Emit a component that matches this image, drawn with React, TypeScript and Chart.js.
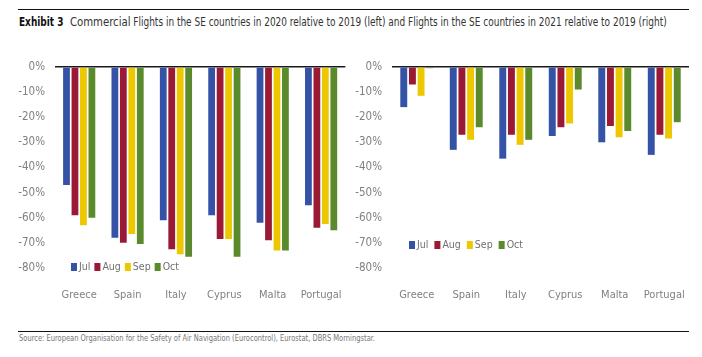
import React, { useEffect, useLayoutEffect, useRef } from "react";
import { Chart, registerables } from "chart.js";

Chart.register(...registerables);

const categories = ["Greece", "Spain", "Italy", "Cyprus", "Malta", "Portugal"];
const months = ["Jul", "Aug", "Sep", "Oct"];
const colors = ["#3452A6", "#9A1A36", "#EDC800", "#5A8A2B"];

// 2020 relative to 2019 (%)
const jul2020 = [-47, -68, -61, -59, -62, -55];
const aug2020 = [-59, -70, -72.5, -68.5, -69, -64];
const sep2020 = [-63, -66.5, -74.5, -68.5, -73, -62.5];
const oct2020 = [-60, -70.5, -75.5, -75.5, -73, -65];

// 2021 relative to 2019 (%)
const jul2021 = [-16, -33, -36.5, -27.5, -30, -35];
const aug2021 = [-7, -27, -27, -24, -23.5, -27];
const sep2021 = [-11.5, -29, -31, -22.5, -28, -28.5];
const oct2021 = [-0.5, -24, -29, -9, -25.5, -22];

const yTicks = [0, -10, -20, -30, -40, -50, -60, -70, -80];

const FONT = "'Liberation Sans Narrow', 'DejaVu Sans Condensed', 'Arial Narrow', sans-serif";

const legendPlugin = {
  id: "insideLegend",
  afterDraw(chart: any, _args: any, opts: any) {
    const ctx = chart.ctx;
    ctx.save();
    ctx.font = `${opts.size || 11}px ${FONT}`;
    ctx.textBaseline = "middle";
    let x = opts.x;
    const y = opts.y;
    chart.data.datasets.forEach((ds: any) => {
      ctx.fillStyle = ds.backgroundColor;
      ctx.fillRect(x, y - 4, 6, 8);
      x += 8;
      ctx.fillStyle = "#707070";
      ctx.fillText(ds.label, x, y);
      x += ctx.measureText(ds.label).width + (opts.gap || 7);
    });
    ctx.restore();
  },
};

function BarChart(props: {
  series: number[][];
  left: number;
  width: number;
  padRight: number;
  legendX: number;
  legendY: number;
  legendGap: number;
}) {
  const ref = useRef<HTMLCanvasElement>(null);
  useEffect(() => {
    const chart = new Chart(ref.current as HTMLCanvasElement, {
      type: "bar",
      data: {
        labels: categories,
        datasets: months.map((m, i) => ({
          label: m,
          data: props.series[i],
          backgroundColor: colors[i],
          borderWidth: 0,
          categoryPercentage: 0.7,
          barPercentage: 0.8,
        })),
      },
      options: {
        animation: false,
        responsive: false,
        layout: { padding: { top: 14, right: props.padRight, left: 0, bottom: 0 } },
        plugins: {
          legend: { display: false },
          tooltip: { enabled: false },
          insideLegend: { x: props.legendX, y: props.legendY, gap: props.legendGap, size: 10.5 },
        } as any,
        scales: {
          x: {
            grid: { display: false },
            border: { display: false },
            ticks: {
              color: "#808080",
              padding: 13,
              font: { family: FONT, size: 11 },
              maxRotation: 0,
            },
            afterFit: (s: any) => {
              s.height = 32;
            },
          },
          y: {
            min: -80,
            max: 0,
            afterBuildTicks: (s: any) => {
              s.ticks = yTicks.map((v) => ({ value: v }));
            },
            grid: {
              drawTicks: false,
              color: (c: any) => (c.tick && c.tick.value === 0 ? "#1a1a1a" : "rgba(0,0,0,0)"),
              lineWidth: 1.5,
            },
            border: { display: false },
            ticks: {
              color: "#808080",
              padding: 10,
              font: { family: FONT, size: 11.5 },
              callback: (v: any) => `${v}%`,
            },
            afterFit: (s: any) => {
              s.width = 55;
            },
          },
        },
      },
      plugins: [legendPlugin],
    });
    return () => chart.destroy();
  }, []);
  return (
    <canvas
      ref={ref}
      width={props.width}
      height={250}
      style={{ position: "absolute", left: props.left, top: 50, width: props.width, height: 250 }}
    />
  );
}

function FitText(props: { width: number; style: React.CSSProperties; children: React.ReactNode }) {
  const ref = useRef<HTMLDivElement>(null);
  useLayoutEffect(() => {
    const el = ref.current;
    if (!el) return;
    el.style.transform = "none";
    const w = el.scrollWidth;
    if (w > 0) el.style.transform = `scaleX(${props.width / w})`;
  }, []);
  return (
    <div
      ref={ref}
      style={{
        position: "absolute",
        whiteSpace: "nowrap",
        transformOrigin: "0 0",
        display: "inline-block",
        ...props.style,
      }}
    >
      {props.children}
    </div>
  );
}

export default function App() {
  const lineStyle: React.CSSProperties = {
    position: "absolute",
    left: 18,
    width: 671,
    height: 0,
    borderTop: "1.5px solid #111",
  };
  return (
    <div
      style={{
        position: "absolute",
        left: 0,
        top: 0,
        width: 702,
        height: 357,
        background: "#fff",
        fontFamily: FONT,
        overflow: "hidden",
      }}
    >
      <div style={{ ...lineStyle, top: 9 }} />
      <FitText width={648} style={{ left: 19, top: 14, color: "#333", fontSize: 11.5, lineHeight: "16px" }}>
        <span style={{ fontWeight: "bold", color: "#111" }}>Exhibit 3</span>
        <span style={{ fontSize: 13 }}>&nbsp; Commercial</span> Flights in the SE countries in 2020 relative
        to 2019 (left) and Flights in the SE countries in 2021 relative to 2019 (right)
      </FitText>
      <BarChart
        series={[jul2020, aug2020, sep2020, oct2020]}
        left={0}
        width={355}
        padRight={5}
        legendX={71}
        legendY={217}
        legendGap={4}
      />
      <BarChart
        series={[jul2021, aug2021, sep2021, oct2021]}
        left={337}
        width={365}
        padRight={13}
        legendX={72}
        legendY={195}
        legendGap={6}
      />
      <div style={{ ...lineStyle, top: 331 }} />
      <FitText width={356} style={{ left: 19, top: 333, color: "#777", fontSize: 9, lineHeight: "10px" }}>
        Source: European Organisation for the Safety of Air Navigation (Eurocontrol), Eurostat, DBRS Morningstar.
      </FitText>
    </div>
  );
}
